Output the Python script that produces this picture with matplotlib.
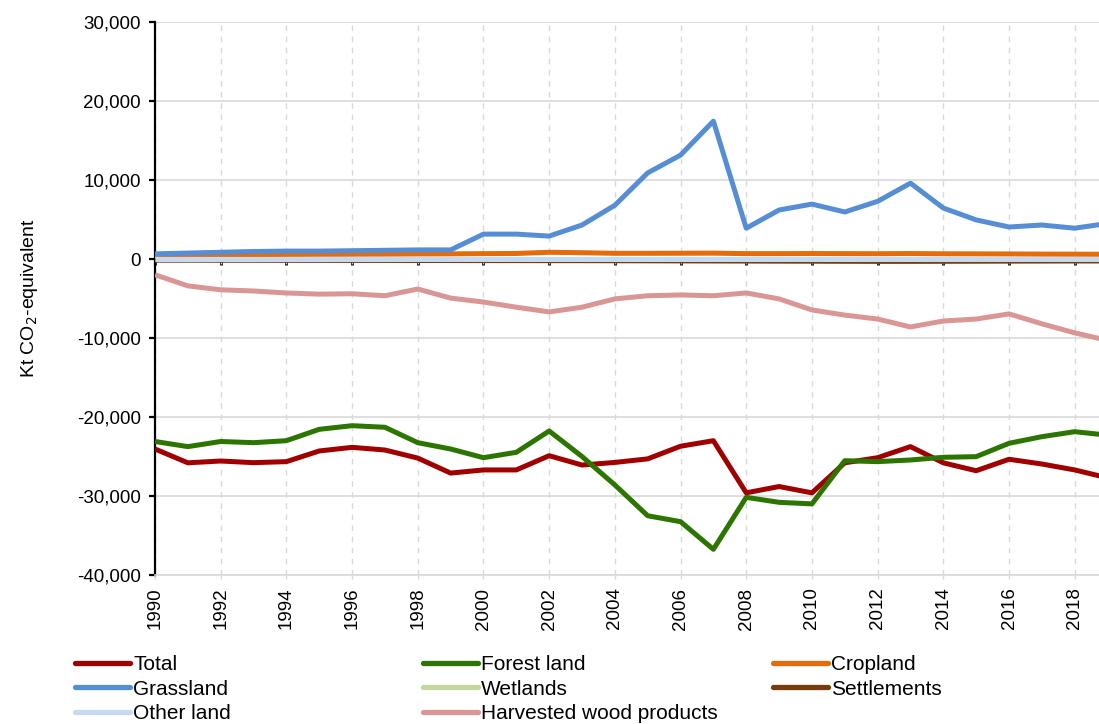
import matplotlib
matplotlib.use("Agg")
import matplotlib.pyplot as plt
from matplotlib import font_manager
from matplotlib.ticker import FuncFormatter

# ── Data (kt CO2-eq) ────────────────────────────────────────────────────────

YEARS = list(range(1990, 2020))

TOTAL = [-24050, -25800, -25570, -25780, -25650, -24300, -23840, -24180, -25200, -27100,
         -26700, -26700, -24900, -26080, -25750, -25300, -23700, -23000, -29600, -28800,
         -29600, -25800, -25150, -23750, -25800, -26800, -25350, -25950, -26700, -27700]
FOREST = [-23100, -23750, -23100, -23250, -23000, -21560, -21100, -21300, -23250, -24050,
          -25150, -24470, -21770, -25000, -28600, -32500, -33250, -36750, -30170, -30800,
          -31000, -25530, -25650, -25440, -25100, -25020, -23330, -22490, -21860, -22300]
CROPLAND = [500, 520, 540, 560, 580, 600, 610, 620, 640, 650,
            680, 700, 850, 800, 720, 720, 730, 740, 680, 680,
            690, 680, 670, 690, 660, 650, 640, 620, 610, 600]
GRASSLAND = [650, 750, 850, 950, 1000, 1000, 1050, 1100, 1150, 1150,
             3150, 3150, 2900, 4300, 6800, 10900, 13150, 17450, 3900, 6200,
             6950, 5950, 7300, 9600, 6450, 4950, 4050, 4300, 3900, 4500]
WETLANDS = [-50, -50, -50, -50, -50, -60, -60, -60, -60, -70,
            -70, -70, -80, -80, -80, -90, -90, -100, -100, -100,
            -100, -100, -100, -100, -100, -100, -100, -100, -100, -100]
SETTLEMENTS = [-150, -150, -160, -160, -170, -170, -180, -180, -190, -190,
               -200, -200, -210, -210, -220, -230, -240, -250, -260, -270,
               -280, -290, -300, -300, -290, -280, -270, -260, -250, -250]
OTHER_LAND = [60, 60, 60, 60, 60, 60, 60, 60, 60, 60,
              60, 60, 60, 60, 60, 60, 60, 60, 60, 60,
              60, 60, 60, 60, 60, 60, 60, 60, 60, 60]
HWP = [-2000, -3400, -3900, -4050, -4300, -4450, -4400, -4650, -3800, -4950,
       -5450, -6100, -6700, -6100, -5050, -4650, -4550, -4650, -4300, -5050,
       -6450, -7100, -7600, -8600, -7850, -7600, -6950, -8200, -9350, -10300]

SERIES = [
    ("Total", TOTAL, "#A00000"),
    ("Forest land", FOREST, "#2B7500"),
    ("Cropland", CROPLAND, "#E46C0A"),
    ("Grassland", GRASSLAND, "#558ED5"),
    ("Wetlands", WETLANDS, "#C3D69B"),
    ("Settlements", SETTLEMENTS, "#763C0B"),
    ("Other land", OTHER_LAND, "#C6D9F1"),
    ("Harvested wood products", HWP, "#D99694"),
]

GRID = "#D9D9D9"


def pick_font(names):
    have = {f.name for f in font_manager.fontManager.ttflist}
    for n in names:
        if n in have:
            return n
    return "DejaVu Sans"


BASE_FONT = pick_font(["Liberation Sans", "Arial"])
plt.rcParams["font.family"] = [BASE_FONT, "DejaVu Sans"]


def main():
    fig = plt.figure(figsize=(10.99, 7.24), dpi=100)
    W, H = 1099, 724
    ax = fig.add_axes([155 / W, 1 - 575 / H, 1 - 155 / W, (575 - 22) / H])

    lines = []
    for name, vals, color in SERIES:
        (ln,) = ax.plot(YEARS, vals, color=color, linewidth=3.6, label=name,
                        solid_joinstyle="round", solid_capstyle="butt", zorder=3)
        lines.append(ln)

    ax.set_xlim(1990, 2018.74)
    ax.set_ylim(-40000, 30000)
    ax.set_yticks(range(-40000, 30001, 10000))
    ax.yaxis.set_major_formatter(FuncFormatter(lambda v, p: f"{int(v):,}"))
    ax.set_xticks(YEARS[::2])
    ax.set_xticklabels([str(y) for y in YEARS[::2]], rotation=90)

    # grid
    ax.yaxis.grid(True, color=GRID, linewidth=1.2, linestyle="-", zorder=0)
    ax.xaxis.grid(True, color=GRID, linewidth=1.0, linestyle=(0, (4, 4)), zorder=0)
    ax.set_axisbelow(True)

    for s in ("top", "right"):
        ax.spines[s].set_visible(False)
    ax.spines["left"].set_linewidth(1.6)
    ax.spines["left"].set_color("black")
    ax.spines["bottom"].set_color(GRID)
    ax.spines["bottom"].set_linewidth(1.2)

    ax.tick_params(axis="y", direction="out", length=4, width=1.6, color="black",
                   labelsize=13.5, pad=6)
    ax.tick_params(axis="x", direction="out", length=3, width=1, color=GRID,
                   labelsize=13.5, pad=6)

    # category axis crossing at zero (tick marks only)
    sec = ax.secondary_xaxis((0 - (-40000)) / 70000)
    sec.set_xticks(YEARS[::2])
    sec.set_xticklabels([])
    sec.xaxis.set_ticks_position("bottom")
    sec.tick_params(direction="out", length=4, width=2, color="black",
                    labelbottom=False, labeltop=False, top=False)
    for s in sec.spines.values():
        s.set_visible(False)

    ax.set_ylabel("Kt CO$_2$-equivalent", fontsize=14)
    ax.yaxis.set_label_coords(-(155 - 40) / (W - 155), 0.5)

    # legend: three columns, filled row by row
    col_x = [75, 423, 773]
    for c in range(3):
        hs = lines[c::3]
        leg = fig.legend(handles=hs, labels=[h.get_label() for h in hs],
                         loc="upper left", bbox_to_anchor=(col_x[c] / W, 1 - 655 / H),
                         frameon=False, borderpad=0, borderaxespad=0,
                         handlelength=2.65, handletextpad=0.15, labelspacing=0.27,
                         prop={"size": 15})
        for lh in leg.legend_handles:
            lh.set_linewidth(3.8)
            lh.set_solid_capstyle("round")

    fig.savefig("out.png", dpi=100)
    plt.close(fig)


if __name__ == "__main__":
    main()
